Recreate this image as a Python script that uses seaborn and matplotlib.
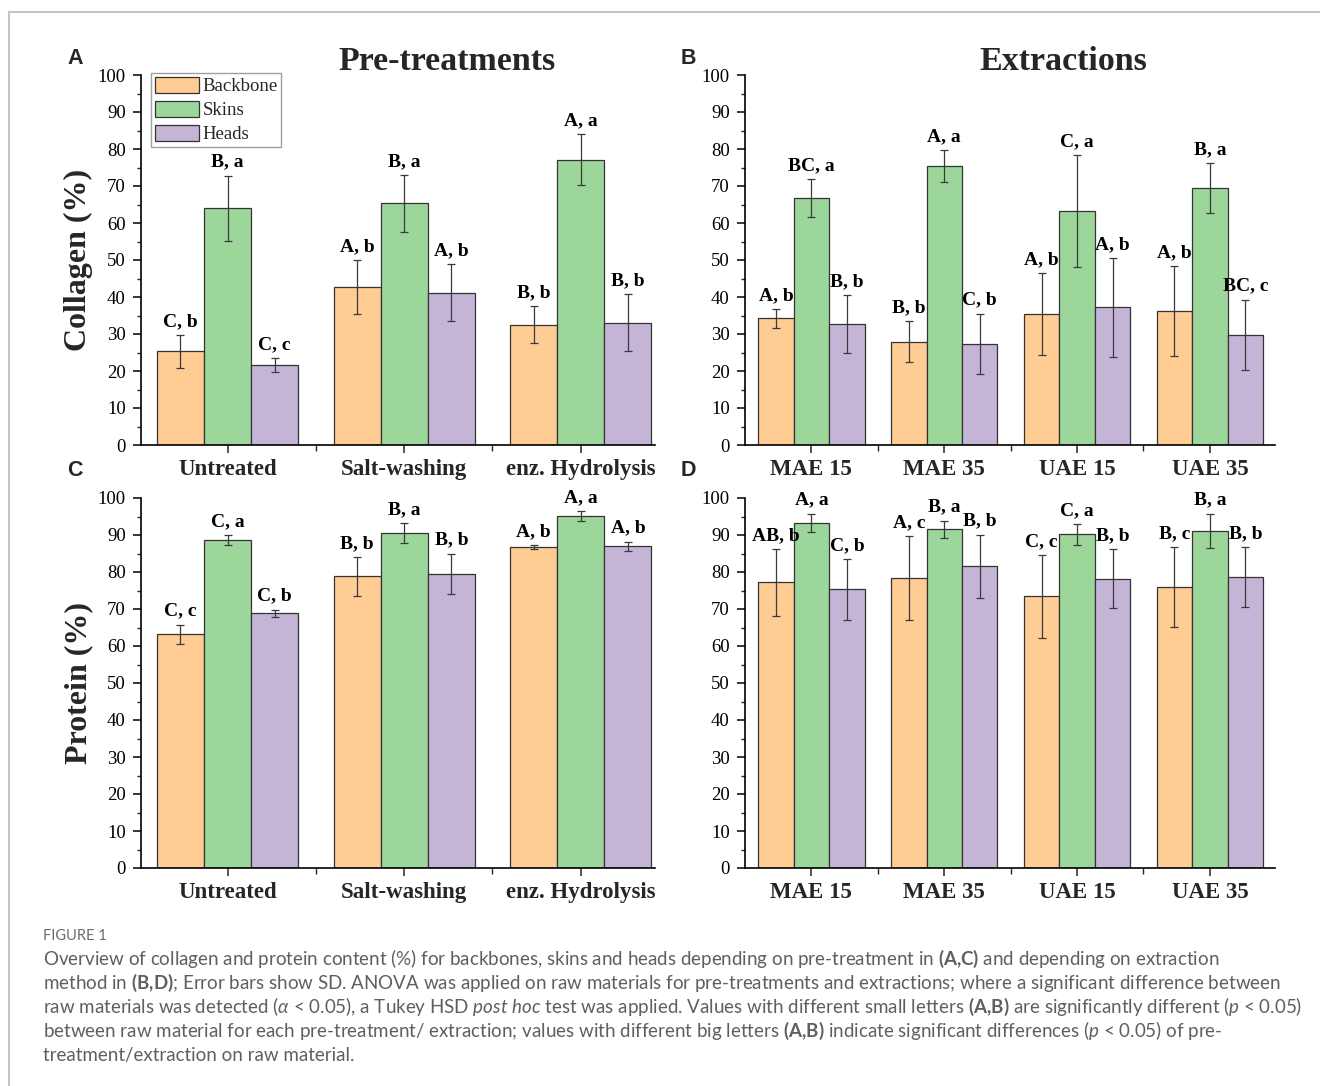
import numpy as np
import pandas as pd
import matplotlib
matplotlib.use("Agg")
import matplotlib.pyplot as plt
import matplotlib.patches as mpatches
from matplotlib.lines import Line2D
from matplotlib.ticker import MultipleLocator, FixedLocator
import seaborn as sns

sns.set_theme(style="ticks")
plt.rcParams["font.family"] = ["Liberation Serif", "DejaVu Serif"]
plt.rcParams["mathtext.fontset"] = "custom"
plt.rcParams["mathtext.rm"] = "Lato"
plt.rcParams["mathtext.bf"] = "Lato:bold"
plt.rcParams["mathtext.it"] = "Lato:italic"

# Data
materials = ["Backbone", "Skins", "Heads"]
colors = ["#FFCC94", "#9CD69B", "#C4B4D6"]

pretreatments = ["Untreated", "Salt-washing", "enz. Hydrolysis"]
extractions = ["MAE 15", "MAE 35", "UAE 15", "UAE 35"]

# rows = material (Backbone, Skins, Heads), columns = category
coll_pre = [[25.3, 42.6, 32.5], [64.0, 65.3, 77.1], [21.5, 41.2, 33.0]]
coll_pre_sd = [[4.4, 7.3, 5.0], [8.8, 7.6, 6.9], [1.9, 7.6, 7.7]]
coll_pre_lab = [["C, b", "A, b", "B, b"], ["B, a", "B, a", "A, a"], ["C, c", "A, b", "B, b"]]

coll_ext = [[34.2, 27.9, 35.3, 36.2], [66.8, 75.4, 63.2, 69.4], [32.7, 27.3, 37.2, 29.8]]
coll_ext_sd = [[2.6, 5.6, 11.1, 12.2], [5.1, 4.3, 15.2, 6.8], [7.9, 8.2, 13.3, 9.5]]
coll_ext_lab = [["A, b", "B, b", "A, b", "A, b"], ["BC, a", "A, a", "C, a", "B, a"],
                ["B, b", "C, b", "A, b", "BC, c"]]

prot_pre = [[63.2, 78.8, 86.7], [88.7, 90.6, 95.1], [68.8, 79.5, 87.0]]
prot_pre_sd = [[2.6, 5.2, 0.6], [1.35, 2.7, 1.4], [1.0, 5.5, 1.2]]
prot_pre_lab = [["C, c", "B, b", "A, b"], ["C, a", "B, a", "A, a"], ["C, b", "B, b", "A, b"]]

prot_ext = [[77.2, 78.4, 73.4, 76.0], [93.3, 91.5, 90.2, 91.2], [75.3, 81.5, 78.2, 78.7]]
prot_ext_sd = [[9.0, 11.3, 11.2, 10.8], [2.5, 2.4, 2.8, 4.6], [8.2, 8.6, 8.0, 8.1]]
prot_ext_lab = [["AB, b", "A, c", "C, c", "B, c"], ["A, a", "B, a", "C, a", "B, a"],
                ["C, b", "B, b", "B, b", "B, b"]]


def panel(ax, cats, vals, sds, labs, xlim, ylabel=None):
    df = pd.DataFrame({
        "cat": np.tile(cats, len(materials)),
        "mat": np.repeat(materials, len(cats)),
        "val": np.ravel(vals),
    })
    sns.barplot(data=df, x="cat", y="val", hue="mat", order=cats, hue_order=materials,
                palette=colors, saturation=1, errorbar=None, width=0.8,
                edgecolor="#333333", linewidth=0.9, legend=False, ax=ax)
    bars = list(ax.containers)
    for i, cont in enumerate(bars):
        for j, bar in enumerate(cont):
            xc = bar.get_x() + bar.get_width() / 2
            top = bar.get_height()
            ax.errorbar(xc, top, yerr=sds[i][j], fmt="none", ecolor="#3a3a3a",
                        elinewidth=0.9, capsize=3, capthick=0.9)
            ax.annotate(labs[i][j], (xc, top + sds[i][j]), xytext=(0, 6.5),
                        textcoords="offset points", ha="center", va="baseline",
                        fontsize=14, fontweight="bold", color="black")
    ax.set_xlim(*xlim)
    ax.set_ylim(0, 100)
    sns.despine(ax=ax)
    for s in ["left", "bottom"]:
        ax.spines[s].set_linewidth(1.2)
        ax.spines[s].set_color("black")
    ax.yaxis.set_major_locator(MultipleLocator(10))
    ax.yaxis.set_minor_locator(MultipleLocator(5))
    ax.xaxis.set_minor_locator(FixedLocator(np.arange(len(cats) - 1) + 0.5))
    ax.tick_params(axis="y", which="major", direction="out", length=6, width=1.1,
                   labelsize=13.5, pad=5, colors="black")
    ax.tick_params(axis="y", which="minor", direction="out", length=3, width=1.0)
    ax.tick_params(axis="x", which="major", direction="out", length=6, width=1.1, pad=4)
    ax.tick_params(axis="x", which="minor", direction="out", length=4, width=1.0)
    for t in ax.get_xticklabels():
        t.set_fontsize(16.5)
        t.set_fontweight("bold")
    ax.set_xlabel("")
    if ylabel:
        ax.set_ylabel(ylabel, fontsize=23, fontweight="bold")
        ax.yaxis.set_label_coords(-0.093, 0.5)
    else:
        ax.set_ylabel("")


W, H = 1320, 1086
fig = plt.figure(figsize=(W / 100, H / 100), dpi=100)


def px_axes(x0, x1, y0, y1):
    return fig.add_axes([x0 / W, 1 - y1 / H, (x1 - x0) / W, (y1 - y0) / H])


axA = px_axes(141, 655, 75, 445)
axB = px_axes(745, 1275, 75, 445)
axC = px_axes(141, 655, 498, 868)
axD = px_axes(745, 1275, 498, 868)

panel(axA, pretreatments, coll_pre, coll_pre_sd, coll_pre_lab, (-0.49, 2.42), "Collagen (%)")
panel(axB, extractions, coll_ext, coll_ext_sd, coll_ext_lab, (-0.5, 3.49))
panel(axC, pretreatments, prot_pre, prot_pre_sd, prot_pre_lab, (-0.49, 2.42), "Protein (%)")
panel(axD, extractions, prot_ext, prot_ext_sd, prot_ext_lab, (-0.5, 3.49))

handles = [mpatches.Patch(facecolor=c, edgecolor="#333333", linewidth=0.9) for c in colors]
leg = axA.legend(handles, materials, loc="upper left", bbox_to_anchor=(0.019, 1.005),
                 borderaxespad=0, frameon=True, fancybox=False, edgecolor="#888888",
                 fontsize=13.5, handlelength=2.35, handleheight=0.96, labelspacing=0.28,
                 borderpad=0.2, handletextpad=0.2)
leg.get_frame().set_linewidth(1.0)

# Titles and panel letters
fig.text(447 / W, 1 - 61 / H, "Pre-treatments", ha="center", va="center",
         fontsize=24.5, fontweight="bold")
fig.text(1063 / W, 1 - 61 / H, "Extractions", ha="center", va="center",
         fontsize=24.5, fontweight="bold")
for letter, (x, y) in zip("ABCD", [(75, 59), (688, 59), (75, 471), (688, 471)]):
    fig.text(x / W, 1 - y / H, letter, ha="center", va="center", fontsize=15.5,
             fontweight="bold", family=["Liberation Sans", "DejaVu Sans"])

# Page frame
fig.add_artist(Line2D([9 / W, 1], [1 - 12 / H] * 2, transform=fig.transFigure,
                      color="#c4c4c4", lw=1.5))
fig.add_artist(Line2D([9 / W, 9 / W], [0, 1 - 12 / H], transform=fig.transFigure,
                      color="#c4c4c4", lw=1.5))

# Caption
fig.text(43 / W, 1 - 936 / H, "FIGURE 1", ha="left", va="center", fontsize=10.5,
         color="#6a6a6a", family="Lato")
caption = [
    r"Overview of collagen and protein content (%) for backbones, skins and heads depending on pre-treatment in $\mathbf{(A{,}C)}$ and depending on extraction",
    r"method in $\mathbf{(B{,}D)}$; Error bars show SD. ANOVA was applied on raw materials for pre-treatments and extractions; where a significant difference between",
    r"raw materials was detected ($\mathit{\alpha}$ < 0.05), a Tukey HSD $\mathit{post\ hoc}$ test was applied. Values with different small letters $\mathbf{(A{,}B)}$ are significantly different ($\mathit{p}$ < 0.05)",
    r"between raw material for each pre-treatment/ extraction; values with different big letters $\mathbf{(A{,}B)}$ indicate significant differences ($\mathit{p}$ < 0.05) of pre-",
    r"treatment/extraction on raw material.",
]
for k, line in enumerate(caption):
    fig.text(43 / W, 1 - (959 + 24 * k) / H, line, ha="left", va="center", fontsize=13.5,
             color="#5f5f5f", family="Lato")

fig.savefig("out.png", dpi=100)
